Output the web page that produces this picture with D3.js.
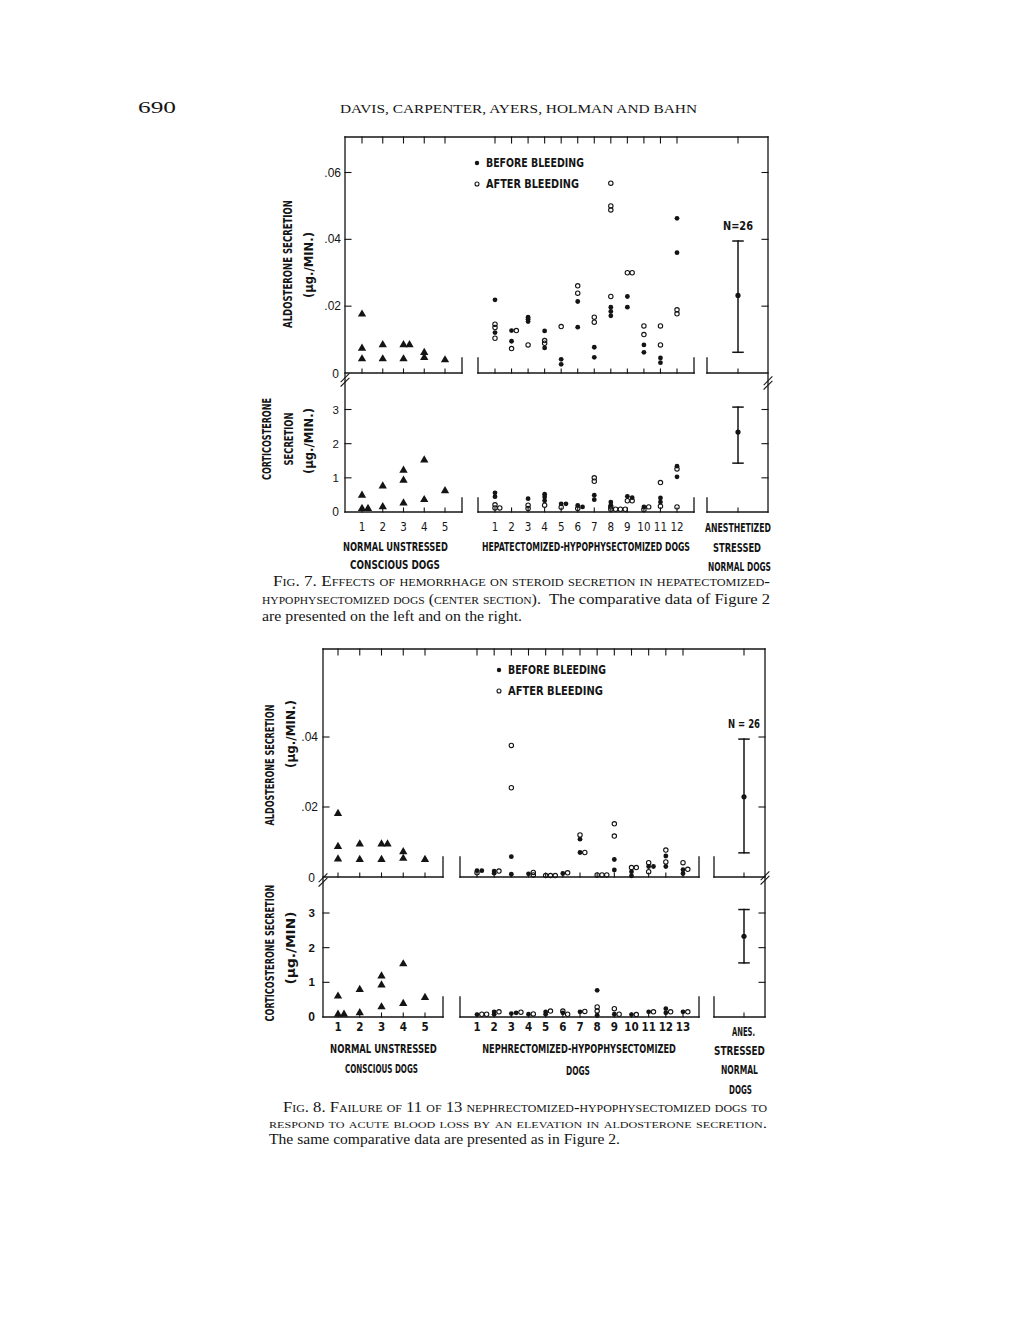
<!DOCTYPE html>
<html><head><meta charset="utf-8">
<script src="https://cdn.jsdelivr.net/npm/d3@7"></script>
<style>body{margin:0;background:#fff}svg{display:block}</style>
</head><body>
<svg id="c" width="1020" height="1320"></svg>
<script>
// ---------------- DATA ----------------
// Figure 7
const fig7LeftLabels = ["1","2","3","4","5"];
const fig7MidLabels = ["1","2","3","4","5","6","7","8","9","10","11","12"];
const fig7AldoNormal = [[0.0176,0.0074,0.0042],[0.0084,0.0042],[0.0084,0.0084,0.0042],[0.0061,0.0046],[0.0039]];
const fig7AldoBefore = [[0.0219,0.0121],[0.0127,0.0095],[0.0167,0.0161,0.0154],[0.0126,0.0075],[0.0041,0.0026],[0.0214,0.0137],[0.0077,0.0047],[0.0197,0.0184,0.0171],[0.0229,0.0197],[0.0084,0.0062],[0.0045,0.0031],[0.0463,0.036]];
const fig7AldoAfter = [[0.0146,0.0136,0.0104],[0.0127,0.0073],[0.0084],[0.0097,0.0089],[0.0139],[0.0261,0.0239],[0.0167,0.0152],[0.0568,0.05,0.0488,0.0229],[0.03,0.03],[0.0141,0.0115],[0.0141,0.0084],[0.0189,0.0177]];
const fig7AldoRef = [0.0062,0.0232,0.0395]; // low, mean, high
const fig7CortNormal = [[0.49,0.1,0.1],[0.76,0.15],[1.22,0.93,0.26],[1.52,0.36],[0.62]];
const fig7CortBefore = [[0.56,0.45],[],[0.39],[0.52,0.44,0.33],[0.24,0.24],[0.19,0.15],[0.49,0.36],[0.29,0.2],[0.46,0.42],[0.15],[0.41,0.29],[1.34,1.03]];
const fig7CortAfter = [[0.21,0.12,0.12],[],[0.2,0.1],[0.2],[0.14],[0.1],[1.0,0.9],[0.15,0.08,0.08,0.08,0.08],[0.33,0.33],[0.15,0.07],[0.86,0.17],[1.26,0.15]];
const fig7CortRef = [1.43,2.34,3.07];
const fig7AldoTicks = [0.02,0.04,0.06];
const fig7AldoTickLabels = [".02",".04",".06"];

// Figure 8
const fig8LeftLabels = ["1","2","3","4","5"];
const fig8MidLabels = ["1","2","3","4","5","6","7","8","9","10","11","12","13"];
const fig8AldoNormal = [[0.0181,0.0087,0.0051],[0.0094,0.005],[0.0094,0.0094,0.005],[0.0072,0.0053],[0.005]];
const fig8AldoBefore = [[0.0018,0.0018],[0.0017,0.0011],[0.0058,0.0008],[0.0009],[],[0.001],[0.0108,0.007],[],[0.005,0.002],[0.0015,0.0003],[0.003,0.003],[0.006,0.003],[0.0021,0.001]];
const fig8AldoAfter = [[0.0012],[0.0017],[0.0376,0.0255],[0.0006,0.0013],[0.0004,0.0004,0.0004],[0.0012],[0.012,0.007],[0.0006,0.0006,0.0006],[0.0152,0.0117],[0.0027,0.0027],[0.0041,0.0015],[0.0077,0.0043],[0.0041,0.0022]];
const fig8AldoRef = [0.0069,0.0229,0.0394];
const fig8CortNormal = [[0.6,0.08,0.08],[0.79,0.12],[1.18,0.92,0.29],[1.53,0.39],[0.56]];
const fig8CortBefore = [[0.07],[0.15,0.08],[0.1,0.12],[0.08],[0.15,0.08],[0.12],[0.15],[0.77,0.05],[0.08],[0.07],[0.15],[0.24,0.12],[0.15]];
const fig8CortAfter = [[0.08,0.08],[0.15],[0.14],[0.09],[0.17],[0.17,0.08],[0.16],[0.29,0.17],[0.24,0.08],[0.07],[0.15],[0.15],[0.15]];
const fig8CortRef = [1.56,2.33,3.1];
const fig8AldoTicks = [0.02,0.04];
const fig8AldoTickLabels = [".02",".04"];

const cortTicks = [1,2,3];
const cortTickLabels = ["1","2","3"];

// ---------------- DRAWING ----------------
const svg = d3.select("#c");
svg.append("rect").attr("width",1020).attr("height",1320).attr("fill","#fff");
const INK = "#141414";
const LBL = '"DejaVu Sans Condensed","Liberation Sans Narrow","Roboto Condensed",sans-serif';
const SERIF = '"Liberation Serif","DejaVu Serif",serif';

// text helper: a target width is reached by horizontal scaling (or textLength for caption lines)
function txt(g, x, y, s, o = {}) {
  const t = g.append("text").attr("x", x).attr("y", y).text(s)
    .attr("fill", INK)
    .attr("font-family", o.family || LBL)
    .attr("font-size", o.size || 11)
    .attr("font-weight", o.weight || "bold")
    .attr("text-anchor", o.anchor || "middle")
    .attr("dominant-baseline", o.baseline || "central");
  if (o.variant) t.attr("font-variant", o.variant);
  if (o.len && o.tl) {
    t.attr("textLength", o.len).attr("lengthAdjust", "spacingAndGlyphs");
    return t;
  }
  let sx = 1;
  if (o.len) {
    const w = t.node().getComputedTextLength();
    if (w > 0) sx = o.len / w;
  }
  const rot = o.rot ? " rotate(-90)" : "";
  t.attr("transform", `translate(${x},${y})${rot} scale(${sx},1) translate(${-x},${-y})`);
  return t;
}
function line(g, x1, y1, x2, y2, w = 1.3) {
  g.append("line").attr("x1",x1).attr("y1",y1).attr("x2",x2).attr("y2",y2)
    .attr("stroke", INK).attr("stroke-width", w).attr("stroke-linecap","square");
}

function drawPoints(g, xScale, labels, yScale, before, after, normal) {
  const tri = d3.symbol().type(d3.symbolTriangle).size(30);
  labels.forEach((lab, i) => {
    const x0 = xScale(lab);
    const placed = [];
    const pts = [];
    if (normal) normal[i].forEach(v => pts.push({v, t: "tri"}));
    if (before) before[i].forEach(v => pts.push({v, t: "fill"}));
    if (after) after[i].forEach(v => pts.push({v, t: "open"}));
    pts.forEach(p => {
      const py = yScale(p.v);
      const step = p.t === "tri" ? 6 : 4.8;
      const thr = p.t === "tri" ? 2 : 1.5;
      let dx = 0;
      while (placed.some(q => Math.abs(q.py - py) < thr && Math.abs(q.px - (x0 + dx)) < step - 0.5)) dx += step;
      const px = x0 + dx;
      placed.push({px, py});
      if (p.t === "tri") {
        g.append("path").attr("d", tri).attr("transform", `translate(${px},${py})`).attr("fill", INK);
      } else if (p.t === "fill") {
        g.append("circle").attr("cx", px).attr("cy", py).attr("r", 2.4).attr("fill", INK);
      } else {
        g.append("circle").attr("cx", px).attr("cy", py).attr("r", 2.2).attr("fill", "none")
          .attr("stroke", INK).attr("stroke-width", 1.1);
      }
    });
  });
}

function errorBar(g, x, yScale, ref) {
  const [lo, mean, hi] = ref;
  line(g, x, yScale(hi), x, yScale(lo), 1.5);
  line(g, x - 5, yScale(hi), x + 5, yScale(hi), 1.5);
  line(g, x - 5, yScale(lo), x + 5, yScale(lo), 1.5);
  g.append("circle").attr("cx", x).attr("cy", yScale(mean)).attr("r", 2.6).attr("fill", INK);
}

function breakMark(g, x, y) {
  [-2.2, 2.2].forEach(o => line(g, x - 4, y + 4 + o, x + 4, y - 4 + o, 1.1));
}

function drawFigure(G, D) {
  const g = svg.append("g");
  const yA = d3.scaleLinear().domain([0, D.aTicks[D.aTicks.length - 1]]).range(G.aRange);
  const yC = d3.scaleLinear().domain([0, 3]).range(G.cRange);
  const xL = d3.scalePoint().domain(D.leftLabels).range(G.leftDogs);
  const xM = d3.scalePoint().domain(D.midLabels).range(G.midDogs);
  const a0 = yA(0), c0 = yC(0);
  const tickFont = '"Liberation Sans",Arial,sans-serif';

  line(g, G.left, G.top, G.right, G.top);
  line(g, G.left, G.top, G.left, c0);
  line(g, G.right, G.top, G.right, c0);

  [[a0, G.stubA], [c0, G.stubC]].forEach(([y0, h]) => {
    line(g, G.left, y0, G.leftBox, y0);
    line(g, G.leftBox, y0, G.leftBox, y0 - h);
    line(g, G.midBox[0], y0 - h, G.midBox[0], y0);
    line(g, G.midBox[0], y0, G.midBox[1], y0);
    line(g, G.midBox[1], y0, G.midBox[1], y0 - h);
    line(g, G.rightBox, y0 - h, G.rightBox, y0);
    line(g, G.rightBox, y0, G.right, y0);
    D.leftLabels.forEach(l => line(g, xL(l), y0, xL(l), y0 - 4, 1.1));
    D.midLabels.forEach(l => line(g, xM(l), y0, xM(l), y0 - 4, 1.1));
    line(g, G.refX, y0, G.refX, y0 - 4, 1.1);
  });

  D.leftLabels.forEach(l => line(g, xL(l), G.top, xL(l), G.top + 6, 1.1));
  D.midLabels.forEach(l => line(g, xM(l), G.top, xM(l), G.top + 6, 1.1));
  line(g, G.refX, G.top, G.refX, G.top + 6, 1.1);

  D.aTicks.forEach((t, i) => {
    line(g, G.left, yA(t), G.left + 6, yA(t), 1.1);
    line(g, G.right, yA(t), G.right - 6, yA(t), 1.1);
    txt(g, G.labelX, yA(t), D.aTickLabels[i], {anchor: "end", weight: "normal", size: 12, family: tickFont});
  });
  txt(g, G.zeroX, a0 + 1, "0", {anchor: "end", weight: "normal", size: 12, family: tickFont});
  cortTicks.forEach((t, i) => {
    line(g, G.left, yC(t), G.left + 6, yC(t), 1.1);
    line(g, G.right, yC(t), G.right - 6, yC(t), 1.1);
    txt(g, G.cLabelX, yC(t), cortTickLabels[i], {anchor: "end", weight: G.numWeight, size: 11.5, family: tickFont});
  });
  txt(g, G.cLabelX, c0, "0", {anchor: "end", weight: G.numWeight, size: 12, family: tickFont});

  breakMark(g, G.left, G.breakL);
  breakMark(g, G.right, G.breakR);

  drawPoints(g, xL, D.leftLabels, yA, null, null, D.aNormal);
  drawPoints(g, xM, D.midLabels, yA, D.aBefore, D.aAfter, null);
  drawPoints(g, xL, D.leftLabels, yC, null, null, D.cNormal);
  drawPoints(g, xM, D.midLabels, yC, D.cBefore, D.cAfter, null);
  errorBar(g, G.refX, yA, D.aRef);
  errorBar(g, G.refX, yC, D.cRef);

  D.leftLabels.forEach(l => txt(g, xL(l), G.numY, l, {weight: G.numWeight, size: 11.5}));
  D.midLabels.forEach(l => txt(g, xM(l), G.numY, l, {weight: G.numWeight, size: 11.5}));

  g.append("circle").attr("cx", G.legX).attr("cy", G.legY1).attr("r", 2.2).attr("fill", INK);
  g.append("circle").attr("cx", G.legX).attr("cy", G.legY2).attr("r", 2.0).attr("fill", "none").attr("stroke", INK).attr("stroke-width", 1.1);
  txt(g, G.legX + 9, G.legY1, "BEFORE BLEEDING", {anchor: "start", len: 98, size: 11.5});
  txt(g, G.legX + 9, G.legY2, "AFTER BLEEDING", {anchor: "start", len: G.legLen2, size: 11.5});
  txt(g, G.refX, yA(D.aRef[2]) - 15, G.nText, {len: G.nLen, size: 11.5});
  return g;
}

// Figure 7
const g7 = drawFigure({
  left: 345, right: 768, top: 137,
  aRange: [373, 172.5], cRange: [512, 409.5],
  leftBox: 462, midBox: [478, 694], rightBox: 707,
  leftDogs: [362, 445], midDogs: [495, 677], refX: 738,
  stubA: 15, stubC: 14,
  labelX: 341, zeroX: 339, cLabelX: 339, numWeight: "normal",
  breakL: 380, breakR: 383, numY: 527,
  legX: 477, legY1: 163, legY2: 184, legLen2: 93,
  nText: "N=26", nLen: 30
}, {
  leftLabels: fig7LeftLabels, midLabels: fig7MidLabels,
  aTicks: fig7AldoTicks, aTickLabels: fig7AldoTickLabels,
  aNormal: fig7AldoNormal, aBefore: fig7AldoBefore, aAfter: fig7AldoAfter, aRef: fig7AldoRef,
  cNormal: fig7CortNormal, cBefore: fig7CortBefore, cAfter: fig7CortAfter, cRef: fig7CortRef
});
const L = {size: 12.5};
txt(g7, 288, 264, "ALDOSTERONE SECRETION", {...L, rot: true, len: 128});
txt(g7, 309, 265, "(μg./MIN.)", {...L, rot: true, len: 66});
txt(g7, 267, 439, "CORTICOSTERONE", {...L, rot: true, len: 82});
txt(g7, 289, 439, "SECRETION", {...L, rot: true, len: 53});
txt(g7, 309, 441, "(μg./MIN.)", {...L, rot: true, len: 66});
txt(g7, 395.5, 547, "NORMAL  UNSTRESSED", {...L, len: 105});
txt(g7, 395, 565, "CONSCIOUS    DOGS", {...L, len: 90});
txt(g7, 586, 547, "HEPATECTOMIZED-HYPOPHYSECTOMIZED DOGS", {...L, len: 208});
txt(g7, 738, 528, "ANESTHETIZED", {...L, len: 66});
txt(g7, 737, 548, "STRESSED", {...L, len: 48});
txt(g7, 739.5, 567, "NORMAL DOGS", {...L, len: 63});

// Figure 8
const g8 = drawFigure({
  left: 323, right: 765, top: 649,
  aRange: [877, 737], cRange: [1017, 913],
  leftBox: 443, midBox: [460, 699], rightBox: 714,
  leftDogs: [338, 425], midDogs: [477, 683], refX: 744,
  stubA: 20, stubC: 20,
  labelX: 318, zeroX: 315, cLabelX: 315, numWeight: "bold",
  breakL: 880, breakR: 878, numY: 1027,
  legX: 499, legY1: 670, legY2: 691, legLen2: 95,
  nText: "N = 26", nLen: 32
}, {
  leftLabels: fig8LeftLabels, midLabels: fig8MidLabels,
  aTicks: fig8AldoTicks, aTickLabels: fig8AldoTickLabels,
  aNormal: fig8AldoNormal, aBefore: fig8AldoBefore, aAfter: fig8AldoAfter, aRef: fig8AldoRef,
  cNormal: fig8CortNormal, cBefore: fig8CortBefore, cAfter: fig8CortAfter, cRef: fig8CortRef
});
txt(g8, 270, 765, "ALDOSTERONE SECRETION", {...L, rot: true, len: 121});
txt(g8, 291, 734, "(μg./MIN.)", {...L, rot: true, len: 68});
txt(g8, 270, 953, "CORTICOSTERONE SECRETION", {...L, rot: true, len: 137});
txt(g8, 291, 948, "(μg./MIN)", {...L, rot: true, len: 73});
txt(g8, 383.5, 1049, "NORMAL UNSTRESSED", {...L, len: 107});
txt(g8, 381.5, 1068, "CONSCIOUS DOGS", {...L, len: 73});
txt(g8, 579, 1049, "NEPHRECTOMIZED-HYPOPHYSECTOMIZED", {...L, len: 194});
txt(g8, 578, 1070, "DOGS", {...L, len: 24});
txt(g8, 743.5, 1031, "ANES.", {...L, len: 23});
txt(g8, 739.5, 1051, "STRESSED", {...L, len: 51});
txt(g8, 739.5, 1070, "NORMAL", {...L, len: 37});
txt(g8, 740.5, 1089, "DOGS", {...L, len: 23});

// page header & captions
const gp = svg.append("g");
const cap = {family: SERIF, weight: "normal", anchor: "start", baseline: "auto", size: 14, tl: true};
txt(gp, 138, 113, "690", {...cap, size: 16, len: 38});
txt(gp, 340, 113, "DAVIS, CARPENTER, AYERS, HOLMAN AND BAHN", {...cap, size: 13, len: 357});
txt(gp, 273, 586, "Fig. 7. Effects of hemorrhage on steroid secretion in hepatectomized-", {...cap, variant: "small-caps", len: 497});
txt(gp, 262, 604, "hypophysectomized dogs (center section).", {...cap, variant: "small-caps", len: 279});
txt(gp, 549, 604, "The comparative data of Figure 2", {...cap, len: 221});
txt(gp, 262, 621, "are presented on the left and on the right.", {...cap, len: 260});
txt(gp, 283, 1112, "Fig. 8. Failure of 11 of 13 nephrectomized-hypophysectomized dogs to", {...cap, variant: "small-caps", len: 484});
txt(gp, 269, 1128, "respond to acute blood loss by an elevation in aldosterone secretion.", {...cap, variant: "small-caps", len: 498, size: 13});
txt(gp, 269, 1144, "The same comparative data are presented as in Figure 2.", {...cap, len: 351});
</script>
</body></html>
